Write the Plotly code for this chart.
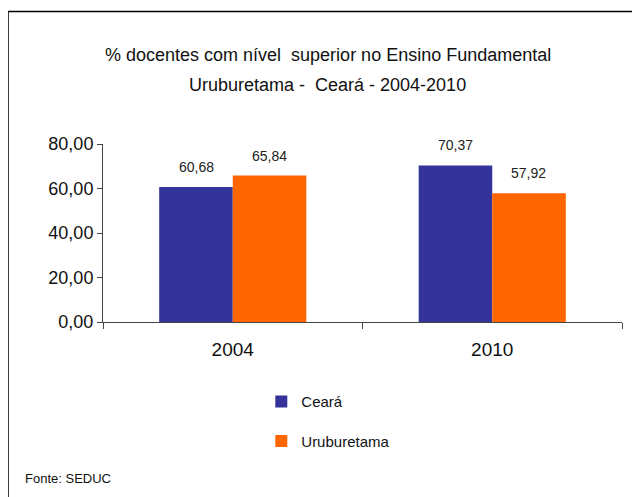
import plotly.graph_objects as go

categories = ["2004", "2010"]
series_names = ["Ceará", "Uruburetama"]
ceara = [60.68, 70.37]
uruburetama = [65.84, 57.92]
colors = ["#333399", "#FF6600"]
y_ticks = [0, 20, 40, 60, 80]
title_lines = ["% docentes com nível  superior no Ensino Fundamental",
               "Uruburetama -  Ceará - 2004-2010"]
source_text = "Fonte: SEDUC"

FONT = "Liberation Sans, Arial, sans-serif"

fig = go.Figure()
for i, (name, vals) in enumerate(zip(series_names, [ceara, uruburetama])):
    fig.add_trace(go.Bar(
        x=categories, y=vals, name=name,
        marker=dict(color=colors[i], line=dict(width=0)),
        legendgroup=name,
        hoverinfo="skip",
    ))

# data labels (x given as category index on the category axis)
annotations = []
for i, vals in enumerate([ceara, uruburetama]):
    for j, v in enumerate(vals):
        annotations.append(dict(
            x=j, y=v, xref="x", yref="y",
            text=f"{v:.2f}".replace(".", ","),
            showarrow=False, yanchor="bottom", xanchor="center",
            xshift=(-36.7 if i == 0 else 36.7), yshift=10,
            font=dict(family=FONT, size=14, color="#222222"),
        ))

# title
annotations.append(dict(x=0.4335, y=1.5, xref="paper", yref="paper",
                        xanchor="center", yanchor="middle",
                        text=title_lines[0], showarrow=False,
                        font=dict(family=FONT, size=18, color="#111111")))
annotations.append(dict(x=0.4335, y=1.331, xref="paper", yref="paper",
                        xanchor="center", yanchor="middle",
                        text=title_lines[1], showarrow=False,
                        font=dict(family=FONT, size=18, color="#111111")))
# source
annotations.append(dict(x=-0.154, y=-0.882, xref="paper", yref="paper",
                        xanchor="left", yanchor="middle",
                        text=source_text, showarrow=False,
                        font=dict(family=FONT, size=13, color="#111111")))

fig.update_layout(
    width=632, height=489,
    margin=dict(l=95, r=18, t=136, b=175),
    paper_bgcolor="white", plot_bgcolor="white",
    barmode="group", bargap=0.433, bargroupgap=0,
    separators=",.",
    showlegend=True,
    legend=dict(
        x=0.305, y=-0.356, xanchor="left", yanchor="top",
        orientation="v", tracegroupgap=17,
        font=dict(family=FONT, size=15, color="#111111"),
        bgcolor="rgba(0,0,0,0)",
    ),
    annotations=annotations,
    xaxis=dict(
        type="category", range=[-0.5, len(categories) - 0.5], autorange=False,
        showline=True, linecolor="#444444", linewidth=1,
        ticks="outside", tickson="boundaries", ticklen=6, tickcolor="#444444",
        ticklabelstandoff=10,
        tickfont=dict(family=FONT, size=19, color="#111111"),
        showgrid=False, zeroline=False,
    ),
    yaxis=dict(
        range=[0, 80], autorange=False, tickvals=y_ticks, tickformat=".2f",
        showline=True, linecolor="#444444", linewidth=1,
        ticks="outside", ticklen=5, tickcolor="#444444",
        tickfont=dict(family=FONT, size=18, color="#111111"),
        showgrid=False, zeroline=False,
    ),
    shapes=[dict(
        type="path", xref="paper", yref="paper",
        path="M -0.183,-1.0 L -0.183,1.744 L 1.04,1.744",
        line=dict(color="black", width=1.5),
    )],
)

fig.write_html("out.html")
